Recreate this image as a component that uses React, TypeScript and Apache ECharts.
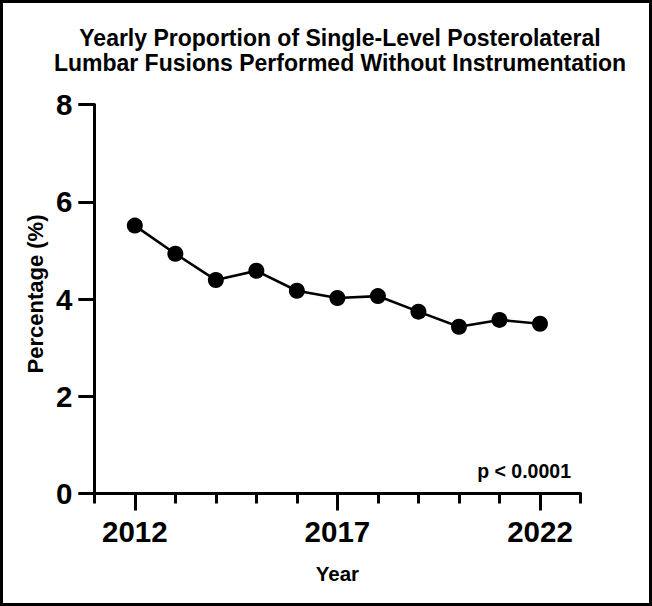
import React, { useEffect, useRef } from "react";
import * as echarts from "echarts";

const years = [2012, 2013, 2014, 2015, 2016, 2017, 2018, 2019, 2020, 2021, 2022];
const percentages = [5.51, 4.93, 4.39, 4.58, 4.17, 4.02, 4.06, 3.74, 3.43, 3.57, 3.49];
const tickYears = ["2011", "2012", "2013", "2014", "2015", "2016", "2017", "2018", "2019", "2020", "2021", "2022", "2023"];
const labeledYears = ["2012", "2017", "2022"];
const titleLines = ["Yearly Proportion of Single-Level Posterolateral", "Lumbar Fusions Performed Without Instrumentation"];
const yAxisTitle = "Percentage (%)";
const xAxisTitle = "Year";
const pValueText = "p < 0.0001";

const FONT = '"Liberation Sans", Arial, Helvetica, sans-serif';

export default function App() {
  const ref = useRef<HTMLDivElement>(null);
  useEffect(() => {
    if (!ref.current) return;
    const chart = echarts.init(ref.current, null, { renderer: "svg" });
    const isMajor = (_i: number, v: string) => labeledYears.includes(String(v));
    chart.setOption({
      animation: false,
      backgroundColor: "#ffffff",
      title: {
        text: titleLines.join("\n"),
        left: 335,
        top: 20,
        textAlign: "center",
        textStyle: { fontFamily: FONT, fontWeight: "bold", fontSize: 23, lineHeight: 25, color: "#000" },
      },
      grid: { left: 94.3, right: 71.5, top: 104.5, bottom: 112.5, containLabel: false },
      xAxis: [
        {
          type: "value",
          min: 2011,
          max: 2023,
          interval: 1,
          position: "bottom",
          axisLine: { show: true, lineStyle: { color: "#000", width: 3 } },
          axisTick: { show: true, length: 10, lineStyle: { color: "#000", width: 3 } },
          axisLabel: { show: false },
          splitLine: { show: false },
          name: xAxisTitle,
          nameLocation: "middle",
          nameGap: 69,
          nameTextStyle: { fontFamily: FONT, fontWeight: "bold", fontSize: 20.5, color: "#000" },
        },
        {
          type: "category",
          data: tickYears,
          boundaryGap: false,
          position: "bottom",
          axisLine: { show: false },
          axisTick: { show: true, length: 17, interval: isMajor, lineStyle: { color: "#000", width: 3 } },
          axisLabel: {
            show: true,
            interval: isMajor,
            margin: 23,
            fontFamily: FONT,
            fontWeight: "bold",
            fontSize: 29.5,
            color: "#000",
          },
          splitLine: { show: false },
        },
      ],
      yAxis: {
        type: "value",
        min: 0,
        max: 8,
        interval: 2,
        axisLine: { show: true, lineStyle: { color: "#000", width: 3 } },
        axisTick: { show: true, length: 16, lineStyle: { color: "#000", width: 3 } },
        axisLabel: { margin: 22, fontFamily: FONT, fontWeight: "bold", fontSize: 29.5, color: "#000" },
        splitLine: { show: false },
      },
      series: [
        {
          type: "line",
          xAxisIndex: 0,
          data: years.map((y, i) => [y, percentages[i]]),
          symbol: "circle",
          symbolSize: 16,
          lineStyle: { color: "#000", width: 2.6 },
          itemStyle: { color: "#000" },
        },
      ],
      graphic: [
        {
          type: "rect",
          shape: { x: 1.5, y: 1.5, width: 649, height: 603 },
          style: { fill: "none", stroke: "#000", lineWidth: 3 },
          silent: true,
        },
        {
          type: "text",
          x: 35,
          y: 294,
          rotation: Math.PI / 2,
          style: {
            text: yAxisTitle,
            fontFamily: FONT,
            fontWeight: "bold",
            fontSize: 22,
            fill: "#000",
            align: "center",
            verticalAlign: "middle",
          },
        },
        {
          type: "text",
          right: 81,
          top: 461,
          style: { text: pValueText, fontFamily: FONT, fontWeight: "bold", fontSize: 19.5, fill: "#000" },
        },
      ],
    });
    return () => chart.dispose();
  }, []);
  return <div ref={ref} style={{ position: "absolute", left: 0, top: 0, width: 652, height: 606 }} />;
}
